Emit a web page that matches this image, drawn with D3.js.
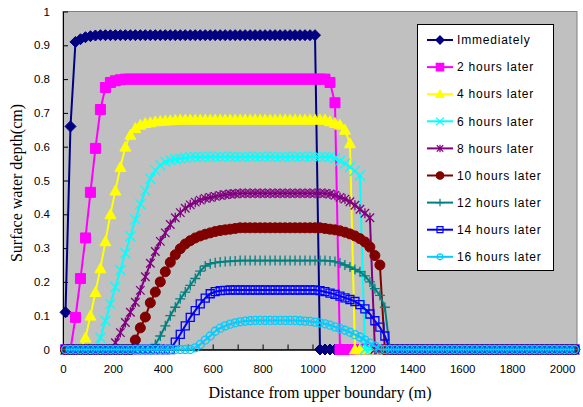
<!DOCTYPE html>
<html>
<head>
<meta charset="utf-8">
<script src="https://cdn.jsdelivr.net/npm/d3@7"></script>
<style>
  body { margin: 0; background: #fff; }
  svg { display: block; }
</style>
</head>
<body>
<div id="chart"></div>
<script>
'use strict';

// distance from upper boundary (m), one point every 20 m
var distance = [
  10,30,50,70,90,110,130,150,170,190,
  210,230,250,270,290,310,330,350,370,390,
  410,430,450,470,490,510,530,550,570,590,
  610,630,650,670,690,710,730,750,770,790,
  810,830,850,870,890,910,930,950,970,990,
  1010,1030,1050,1070,1090,1110,1130,1150,1170,1190,
  1210,1230,1250,1270,1290,1310,1330,1350,1370,1390,
  1410,1430,1450,1470,1490,1510,1530,1550,1570,1590,
  1610,1630,1650,1670,1690,1710,1730,1750,1770,1790,
  1810,1830,1850,1870,1890,1910,1930,1950,1970,1990,
  2010,2030,2050
];

var immediately = [
  0.11,0.66,0.91,0.918,0.924,0.927,0.929,0.93,0.93,0.93,
  0.93,0.93,0.93,0.93,0.93,0.93,0.93,0.93,0.93,0.93,
  0.93,0.93,0.93,0.93,0.93,0.93,0.93,0.93,0.93,0.93,
  0.93,0.93,0.93,0.93,0.93,0.93,0.93,0.93,0.93,0.93,
  0.93,0.93,0.93,0.93,0.93,0.93,0.93,0.93,0.93,0.93,
  0.93,0,0,0,0,0,0,0,0,0,
  0,0,0,0,0,0,0,0,0,0,
  0,0,0,0,0,0,0,0,0,0,
  0,0,0,0,0,0,0,0,0,0,
  0,0,0,0,0,0,0,0,0,0,
  0,0,0
];

var hours2 = [
  0,0,0.095,0.21,0.33,0.465,0.595,0.71,0.775,0.79,
  0.795,0.798,0.8,0.8,0.8,0.8,0.8,0.8,0.8,0.8,
  0.8,0.8,0.8,0.8,0.8,0.8,0.8,0.8,0.8,0.8,
  0.8,0.8,0.8,0.8,0.8,0.8,0.8,0.8,0.8,0.8,
  0.8,0.8,0.8,0.8,0.8,0.8,0.8,0.8,0.8,0.8,
  0.8,0.8,0.8,0.79,0.73,0,0,0,0,0,
  0,0,0,0,0,0,0,0,0,0,
  0,0,0,0,0,0,0,0,0,0,
  0,0,0,0,0,0,0,0,0,0,
  0,0,0,0,0,0,0,0,0,0,
  0,0,0
];

var hours4 = [
  0,0,0,0,0.035,0.1,0.17,0.24,0.32,0.4,
  0.47,0.54,0.6,0.635,0.655,0.665,0.67,0.672,0.675,0.676,
  0.677,0.678,0.679,0.68,0.68,0.68,0.68,0.68,0.68,0.68,
  0.68,0.68,0.68,0.68,0.68,0.68,0.68,0.68,0.68,0.68,
  0.68,0.68,0.68,0.68,0.68,0.68,0.68,0.68,0.68,0.68,
  0.68,0.68,0.68,0.675,0.67,0.665,0.65,0.61,0,0,
  0,0,0,0,0,0,0,0,0,0,
  0,0,0,0,0,0,0,0,0,0,
  0,0,0,0,0,0,0,0,0,0,
  0,0,0,0,0,0,0,0,0,0,
  0,0,0
];

var hours6 = [
  0,0,0,0,0,0,0,0.035,0.085,0.135,
  0.185,0.235,0.285,0.335,0.385,0.43,0.47,0.505,0.53,0.545,
  0.555,0.56,0.563,0.565,0.567,0.569,0.57,0.57,0.57,0.57,
  0.57,0.57,0.57,0.57,0.57,0.57,0.57,0.57,0.57,0.57,
  0.57,0.57,0.57,0.57,0.57,0.57,0.57,0.57,0.57,0.57,
  0.57,0.57,0.57,0.57,0.565,0.558,0.55,0.54,0.528,0.515,
  0,0,0,0,0,0,0,0,0,0,
  0,0,0,0,0,0,0,0,0,0,
  0,0,0,0,0,0,0,0,0,0,
  0,0,0,0,0,0,0,0,0,0,
  0,0,0
];

var hours8 = [
  0,0,0,0,0,0,0,0,0,0,
  0.02,0.05,0.08,0.11,0.14,0.175,0.215,0.255,0.29,0.32,
  0.345,0.37,0.39,0.405,0.418,0.428,0.436,0.442,0.447,0.45,
  0.453,0.456,0.458,0.46,0.461,0.462,0.462,0.462,0.462,0.462,
  0.462,0.462,0.462,0.462,0.462,0.462,0.462,0.462,0.462,0.462,
  0.462,0.462,0.462,0.46,0.456,0.45,0.445,0.437,0.427,0.415,
  0.403,0.39,0,0,0,0,0,0,0,0,
  0,0,0,0,0,0,0,0,0,0,
  0,0,0,0,0,0,0,0,0,0,
  0,0,0,0,0,0,0,0,0,0,
  0,0,0
];

var hours10 = [
  0,0,0,0,0,0,0,0,0,0,
  0,0,0,0,0.028,0.064,0.096,0.138,0.17,0.2,
  0.23,0.258,0.28,0.298,0.312,0.322,0.33,0.336,0.341,0.345,
  0.349,0.352,0.354,0.356,0.358,0.36,0.36,0.36,0.36,0.36,
  0.36,0.36,0.36,0.36,0.36,0.36,0.36,0.36,0.36,0.36,
  0.36,0.36,0.358,0.356,0.354,0.351,0.347,0.342,0.336,0.328,
  0.318,0.303,0.278,0.25,0,0,0,0,0,0,
  0,0,0,0,0,0,0,0,0,0,
  0,0,0,0,0,0,0,0,0,0,
  0,0,0,0,0,0,0,0,0,0,
  0,0,0
];

var hours12 = [
  0,0,0,0,0,0,0,0,0,0,
  0,0,0,0,0,0,0,0,0.015,0.04,
  0.07,0.1,0.125,0.15,0.17,0.19,0.21,0.232,0.247,0.254,
  0.257,0.259,0.26,0.261,0.262,0.263,0.263,0.263,0.263,0.263,
  0.263,0.263,0.263,0.263,0.263,0.263,0.263,0.263,0.263,0.263,
  0.263,0.263,0.263,0.262,0.26,0.256,0.25,0.244,0.237,0.23,
  0.218,0.2,0.18,0.16,0.125,0,0,0,0,0,
  0,0,0,0,0,0,0,0,0,0,
  0,0,0,0,0,0,0,0,0,0,
  0,0,0,0,0,0,0,0,0,0,
  0,0,0
];

var hours14 = [
  0,0,0,0,0,0,0,0,0,0,
  0,0,0,0,0,0,0,0,0,0,
  0,0,0.022,0.045,0.07,0.095,0.115,0.135,0.152,0.165,
  0.171,0.174,0.175,0.176,0.176,0.176,0.176,0.176,0.176,0.176,
  0.176,0.176,0.176,0.176,0.176,0.176,0.176,0.176,0.176,0.176,
  0.176,0.174,0.171,0.167,0.163,0.158,0.153,0.148,0.142,0.133,
  0.12,0.105,0.085,0.066,0.04,0,0,0,0,0,
  0,0,0,0,0,0,0,0,0,0,
  0,0,0,0,0,0,0,0,0,0,
  0,0,0,0,0,0,0,0,0,0,
  0,0,0
];

var hours16 = [
  0,0,0,0,0,0,0,0,0,0,
  0,0,0,0,0,0,0,0,0,0,
  0,0,0,0,0,0,0.005,0.015,0.028,0.04,
  0.054,0.063,0.07,0.075,0.079,0.082,0.084,0.085,0.086,0.086,
  0.086,0.086,0.086,0.086,0.086,0.086,0.086,0.085,0.084,0.083,
  0.081,0.079,0.076,0.072,0.067,0.062,0.057,0.051,0.044,0.037,
  0.028,0.019,0.01,0,0,0,0,0,0,0,
  0,0,0,0,0,0,0,0,0,0,
  0,0,0,0,0,0,0,0,0,0,
  0,0,0,0,0,0,0,0,0,0,
  0,0,0
];

var seriesNames = ["Immediately", "2 hours later", "4 hours later", "6 hours later", "8 hours later",
  "10 hours later", "12 hours later", "14 hours later", "16 hours later"];
var seriesValues = [immediately, hours2, hours4, hours6, hours8, hours10, hours12, hours14, hours16];

var xTickValues = [0, 200, 400, 600, 800, 1000, 1200, 1400, 1600, 1800, 2000];
var xMinorTicks = [100, 300, 500, 700, 900, 1100, 1300, 1500, 1700, 1900];
var yTickValues = [0, 0.1, 0.2, 0.3, 0.4, 0.5, 0.6, 0.7, 0.8, 0.9, 1];

var styles = [
  {color: "#000080", marker: "diamond", r: 5.5, fill: true},
  {color: "#ff00ff", marker: "square", r: 5, fill: true},
  {color: "#ffff00", marker: "triangle", r: 5.5, fill: true},
  {color: "#00ffff", marker: "x", r: 5, fill: false},
  {color: "#800080", marker: "star", r: 5, fill: false},
  {color: "#800000", marker: "circle", r: 5, fill: true},
  {color: "#008080", marker: "plus", r: 5, fill: false},
  {color: "#0000ff", marker: "square", r: 4, fill: false},
  {color: "#00ccff", marker: "circle", r: 4, fill: false}
];

var markerPath = function(type, r) {
  switch (type) {
    case "diamond": return "M0," + (-r) + "L" + r + ",0L0," + r + "L" + (-r) + ",0Z";
    case "square": return "M" + (-r) + "," + (-r) + "h" + (2 * r) + "v" + (2 * r) + "h" + (-2 * r) + "Z";
    case "triangle": return "M0," + (-r) + "L" + r + "," + (r * 0.8) + "L" + (-r) + "," + (r * 0.8) + "Z";
    case "x": return "M" + (-r) + "," + (-r) + "L" + r + "," + r + "M" + r + "," + (-r) + "L" + (-r) + "," + r;
    case "star": return markerPath("x", r * 0.85) + "M0," + (-r) + "V" + r;
    case "plus": return "M" + (-r) + ",0H" + r + "M0," + (-r) + "V" + r;
    case "circle": return "M" + r + ",0A" + r + "," + r + " 0 1,1 " + (-r) + ",0A" + r + "," + r + " 0 1,1 " + r + ",0Z";
  }
};

var width = 583, height = 407;
var plot = {left: 63, right: 577, top: 11.5, bottom: 349.5};

var svg = d3.select("#chart").append("svg")
  .attr("width", width)
  .attr("height", height);

svg.append("rect")
  .attr("width", width).attr("height", height)
  .attr("fill", "#fff");

var x = d3.scaleLinear().domain([0, 2060]).range([plot.left, plot.right]);
var y = d3.scaleLinear().domain([0, 1]).range([plot.bottom, plot.top]);

svg.append("rect")
  .attr("x", plot.left).attr("y", plot.top)
  .attr("width", plot.right - plot.left).attr("height", plot.bottom - plot.top)
  .attr("fill", "#c0c0c0")
  .attr("stroke", "#808080")
  .attr("stroke-width", 1);

var tickFont = function(g) {
  g.selectAll("text")
    .attr("font-family", "'Liberation Sans', Arial, sans-serif")
    .attr("font-size", "11.5px")
    .attr("fill", "#000");
  g.selectAll("line").attr("stroke", "#000");
  g.select(".domain").attr("stroke", "#000");
};

svg.append("g")
  .attr("transform", "translate(0," + plot.bottom + ")")
  .call(d3.axisBottom(x).tickValues(xMinorTicks).tickSize(-5).tickSizeOuter(0).tickFormat(""))
  .call(tickFont);

svg.append("g")
  .attr("transform", "translate(0," + plot.bottom + ")")
  .call(d3.axisBottom(x).tickValues(xTickValues).tickSize(-5).tickSizeOuter(0).tickPadding(15)
    .tickFormat(d3.format("d")))
  .call(tickFont);

svg.append("g")
  .attr("transform", "translate(" + plot.left + ",0)")
  .call(d3.axisLeft(y).tickValues(yTickValues).tickSize(-5).tickSizeOuter(0).tickPadding(13)
    .tickFormat(d3.format("~g")))
  .call(tickFont);

var line = d3.line()
  .x(function(d, i) { return x(distance[i]); })
  .y(function(d) { return y(d); });

seriesValues.forEach(function(values, s) {
  var st = styles[s];
  var g = svg.append("g").attr("class", "series");
  g.append("path")
    .attr("d", line(values))
    .attr("fill", "none")
    .attr("stroke", st.color)
    .attr("stroke-width", 2);
  g.selectAll(".mark")
    .data(values)
    .enter().append("path")
      .attr("class", "mark")
      .attr("transform", function(d, i) { return "translate(" + x(distance[i]) + "," + y(d) + ")"; })
      .attr("d", markerPath(st.marker, st.r))
      .attr("fill", st.fill ? st.color : "none")
      .attr("stroke", st.color)
      .attr("stroke-width", st.fill ? 1 : 1.3);
});

// legend
var legend = svg.append("g").attr("class", "legend");
legend.append("rect")
  .attr("x", 417.5).attr("y", 24.5)
  .attr("width", 136).attr("height", 246)
  .attr("fill", "#fff")
  .attr("stroke", "#000");

var entry = legend.selectAll(".entry")
  .data(seriesNames)
  .enter().append("g")
  .attr("class", "entry")
  .attr("transform", function(d, i) { return "translate(0," + (40 + i * 27.1) + ")"; });

entry.append("line")
  .attr("x1", 427).attr("x2", 453)
  .attr("stroke", function(d, i) { return styles[i].color; })
  .attr("stroke-width", 2);
entry.append("path")
  .attr("transform", "translate(440,0)")
  .attr("d", function(d, i) { return markerPath(styles[i].marker, styles[i].r * 0.75); })
  .attr("fill", function(d, i) { return styles[i].fill ? styles[i].color : "none"; })
  .attr("stroke", function(d, i) { return styles[i].color; })
  .attr("stroke-width", 1.2);
entry.append("text")
  .attr("x", 457)
  .attr("dy", "0.35em")
  .attr("font-family", "'Liberation Sans', Arial, sans-serif")
  .attr("font-size", "12px")
  .attr("letter-spacing", "0.8px")
  .text(function(d) { return d; });

svg.append("text")
  .attr("x", (plot.left + plot.right) / 2)
  .attr("y", 398)
  .attr("text-anchor", "middle")
  .attr("font-family", "'Liberation Serif', 'Times New Roman', serif")
  .attr("font-size", "16px")
  .text("Distance from upper boundary (m)");

svg.append("text")
  .attr("transform", "translate(22,183) rotate(-90)")
  .attr("text-anchor", "middle")
  .attr("font-family", "'Liberation Serif', 'Times New Roman', serif")
  .attr("font-size", "16px")
  .text("Surface water depth(cm)");
</script>
</body>
</html>
